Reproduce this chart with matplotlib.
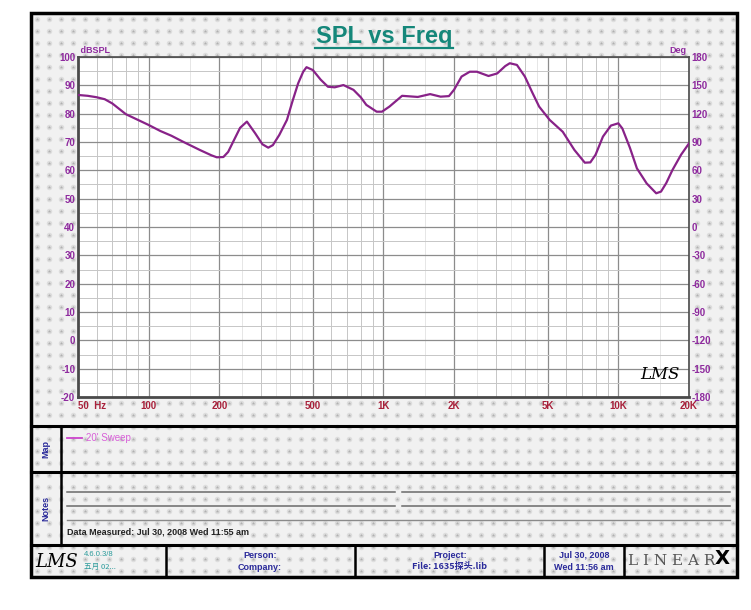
import numpy as np
import matplotlib
matplotlib.use('Agg')
import matplotlib.pyplot as plt
from matplotlib.patches import Rectangle

plt.rcParams['font.family'] = ['Liberation Sans Narrow', 'Liberation Sans', 'Noto Sans CJK SC', 'DejaVu Sans']
plt.rcParams['axes.unicode_minus'] = False

# frequency response (Hz, dBSPL)
freq = [50, 55, 60, 65, 70, 80, 90, 100, 112, 125, 140, 165, 185, 195, 208, 218, 229,
        245, 262, 284, 305, 323, 338, 360, 388, 410, 433, 455, 470, 500, 540, 580, 620,
        675, 745, 800, 845, 935, 985, 1060, 1200, 1400, 1580, 1750, 1900, 2000, 2150,
        2330, 2500, 2800, 3050, 3300, 3450, 3700, 4000, 4300, 4600, 5100, 5800, 6500,
        7200, 7600, 8000, 8600, 9300, 10000, 10400, 11200, 12000, 13200, 14500, 15200,
        16000, 17000, 18500, 20000]
spl = [86.6, 86.3, 85.8, 85.1, 83.6, 79.8, 77.8, 76.0, 73.9, 72.2, 70.1, 67.2, 65.3, 64.6,
       64.7, 66.5, 70.1, 75.0, 77.2, 73.1, 69.2, 68.0, 68.9, 72.5, 77.8, 84.5, 90.7, 94.8,
       96.4, 95.4, 92.0, 89.5, 89.3, 90.1, 88.4, 85.8, 83.1, 80.7, 80.7, 82.5, 86.3, 85.9,
       86.9, 86.0, 86.2, 88.5, 93.1, 94.8, 94.8, 93.3, 94.2, 96.8, 97.8, 97.2, 93.1, 87.5,
       82.5, 77.8, 73.6, 67.2, 62.7, 62.8, 65.5, 71.9, 75.8, 76.6, 74.8, 68.0, 60.7, 55.4,
       51.9, 52.5, 55.5, 60.1, 65.5, 69.5]

x_ticks = [50, 100, 200, 500, 1000, 2000, 5000, 10000, 20000]
x_labels = ['50  Hz', '100', '200', '500', '1K', '2K', '5K', '10K', '20K']
db_ticks = list(range(-20, 101, 10))
deg_ticks = list(range(-180, 181, 30))

purple = '#8e2a9e'
navy = '#2a2a9a'

fig = plt.figure(figsize=(7.51, 6.10), dpi=100)

# background sheet in pixel coordinates
bg = fig.add_axes([0, 0, 1, 1], zorder=0)
bg.set_xlim(0, 751)
bg.set_ylim(610, 0)
bg.axis('off')
bg.add_patch(Rectangle((31, 13), 706, 564, facecolor='#f1f1f1', edgecolor='none'))
gx, gy = np.meshgrid(np.arange(37, 737, 12), np.arange(19, 577, 12))
bg.scatter(gx.ravel(), gy.ravel(), s=16, c='#dedede', marker='o', linewidths=0)
bg.scatter(gx.ravel(), gy.ravel(), s=7, c='#b0b0b0', marker='*', linewidths=0)
bg.add_patch(Rectangle((31, 13), 706, 564, facecolor='none', edgecolor='black', lw=2.5))

# section dividers
for yy in [426, 472, 545]:
    bg.plot([31, 737], [yy, yy], color='black', lw=2.2)
bg.plot([61, 61], [426, 545], color='black', lw=1.8)
for xx in [166, 355, 544, 624]:
    bg.plot([xx, xx], [545, 577], color='black', lw=1.8)

# title
bg.text(384, 37, 'SPL vs Freq', color='#15877a', fontsize=17, fontweight='bold',
        ha='center', va='center', family=['Liberation Sans', 'DejaVu Sans'])
bg.plot([315, 453], [48, 48], color='#15877a', lw=1.6)

# map / notes panel
bg.text(46, 449, 'Map', rotation=90, color=navy, fontsize=6.5, fontweight='bold', ha='center', va='center')
bg.text(46, 508, 'Notes', rotation=90, color=navy, fontsize=6.5, fontweight='bold', ha='center', va='center')
bg.plot([67, 82], [438, 438], color='#cc44cc', lw=1.3)
bg.text(86, 438, "20' Sweep", color='#d860d8', fontsize=7, va='center')
for yy, split in [(492, True), (506, True), (520, False)]:
    if split:
        bg.plot([67, 395], [yy, yy], color='#6a6a6a', lw=1.1)
        bg.plot([402, 730], [yy, yy], color='#6a6a6a', lw=1.1)
    else:
        bg.plot([67, 730], [yy, yy], color='#8a8a8a', lw=1.0)
bg.text(67, 532, 'Data Measured: Jul 30, 2008 Wed 11:55 am', color='#222222', fontsize=6.5,
        fontweight='bold', va='center')

# footer
bg.text(57, 562, 'LMS', fontsize=13, style='italic', color='black', ha='center', va='center',
        family=['DejaVu Serif'])
bg.text(84, 555, '4.6.0.3/8', color='#2a9a9a', fontsize=5.5, va='center')
bg.text(84, 567, '五月 02...', color='#2a9a9a', fontsize=5.5, va='center',
        family=['Noto Sans CJK SC', 'DejaVu Sans'])
bg.text(260, 555, 'Person:', color=navy, fontsize=6.5, fontweight='bold', ha='center', va='center')
bg.text(260, 567, 'Company:', color=navy, fontsize=6.5, fontweight='bold', ha='center', va='center')
bg.text(450, 555, 'Project:', color=navy, fontsize=6.5, fontweight='bold', ha='center', va='center')
bg.text(450, 567, 'File: 1635探头.lib', color=navy, fontsize=6.5, fontweight='bold', ha='center',
        va='center', family=['Liberation Sans Narrow', 'Noto Sans CJK SC', 'DejaVu Sans'])
bg.text(584, 555, 'Jul 30, 2008', color=navy, fontsize=6.5, fontweight='bold', ha='center', va='center')
bg.text(584, 567, 'Wed 11:56 am', color=navy, fontsize=6.5, fontweight='bold', ha='center', va='center')
bg.text(672, 561, 'L I N E A R', color='#555555', fontsize=11, ha='center', va='center',
        family=['DejaVu Serif'])
bg.text(722, 559, 'X', color='black', fontsize=14, fontweight='bold', ha='center', va='center',
        family=['DejaVu Sans'])

# main plot
ax = fig.add_axes([78 / 751, 1 - 397 / 610, 611 / 751, 340 / 610], zorder=1)
ax.set_facecolor('white')
ax.set_xscale('log')
ax.set_xlim(50, 20000)
ax.set_ylim(-20, 100)

minor_x = [m * d for d in [10, 100, 1000, 10000] for m in range(1, 10)
           if 50 < m * d < 20000 and m * d not in x_ticks]
half_x = [m * d for d in [100, 1000, 10000] for m in [1.5, 2.5, 3.5, 4.5]
          if 50 < m * d < 20000]
ax.set_xticks(x_ticks)
ax.set_xticklabels(x_labels)
ax.set_xticks(minor_x, minor=True)
ax.set_xticklabels([], minor=True)
ax.set_yticks(db_ticks)
ax.set_yticks([v + 5 for v in db_ticks[:-1]], minor=True)
ax.grid(which='major', color='#8c8c8c', lw=0.9)
ax.grid(which='minor', color='#c6c6c6', lw=0.7)
for f in half_x:
    ax.axvline(f, color='#e2e2e2', lw=0.6, zorder=0.5)
ax.set_axisbelow(True)

ax.plot(freq, spl, color='#882288', lw=1.6, zorder=3)

ax.tick_params(which='both', length=0)
ax.tick_params(axis='x', labelsize=7, labelcolor='#a8203a', pad=3)
ax.tick_params(axis='y', labelsize=7, labelcolor=purple, pad=2)
for lab in ax.get_xticklabels() + ax.get_yticklabels():
    lab.set_fontweight('bold')
ax.get_xticklabels()[0].set_horizontalalignment('left')
for s in ax.spines.values():
    s.set_color('#4a4a4a')
    s.set_linewidth(1.2)
ax.spines['bottom'].set_linewidth(2)
ax.spines['left'].set_linewidth(2)

ax2 = ax.twinx()
ax2.set_ylim(-180, 180)
ax2.set_yticks(deg_ticks)
ax2.tick_params(length=0, labelsize=7, labelcolor=purple, pad=2)
for lab in ax2.get_yticklabels():
    lab.set_fontweight('bold')
for s in ax2.spines.values():
    s.set_visible(False)

ax.text(0.0, 1.005, ' dBSPL', transform=ax.transAxes, color=purple, fontsize=6.5,
        fontweight='bold', ha='left', va='bottom')
ax.text(0.995, 1.005, 'Deg', transform=ax.transAxes, color=purple, fontsize=6.5,
        fontweight='bold', ha='right', va='bottom')
ax.text(0.985, 0.04, 'LMS', transform=ax.transAxes, fontsize=12, style='italic',
        color='black', ha='right', va='bottom', family=['DejaVu Serif'])

plt.savefig('out.png', dpi=100)
